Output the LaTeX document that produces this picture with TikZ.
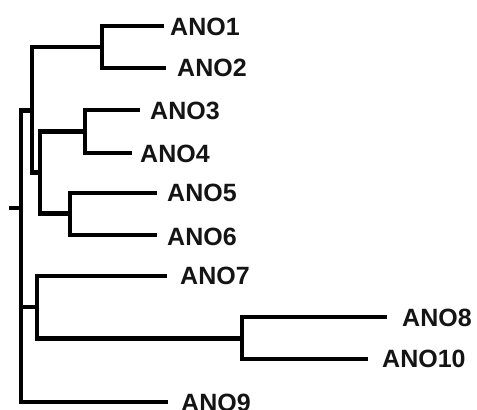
\documentclass[tikz,border=0pt]{standalone}
\usepackage{fontspec}
\setmainfont{Liberation Sans}
\begin{document}
\begin{tikzpicture}[x=1pt,y=-1pt,
  branch/.style={line width=4.6pt,line cap=butt,line join=miter,black},
  leaflabel/.style={anchor=west,inner sep=0pt,text=black!92,
    font=\fontsize{25}{30}\selectfont\bfseries}]
  \clip (0,0) rectangle (477,410);
  \useasboundingbox (0,0) rectangle (477,410);

  % internal nodes of the tree
  \coordinate (rt) at (9,208);
  \coordinate (r)  at (21,208);
  \coordinate (nA) at (32,110.5);
  \coordinate (nB) at (102,47);
  \coordinate (nC) at (40,172.5);
  \coordinate (nD) at (85,131.5);
  \coordinate (nE) at (70,213.5);
  \coordinate (nF) at (37,307);
  \coordinate (nG) at (242,338.5);

  % branch tips
  \coordinate (e1)  at (164,26);
  \coordinate (e2)  at (166,68);
  \coordinate (e3)  at (140,110);
  \coordinate (e4)  at (132,153);
  \coordinate (e5)  at (157,193);
  \coordinate (e6)  at (157,235);
  \coordinate (e7)  at (167,276);
  \coordinate (e8)  at (387,317);
  \coordinate (e10) at (368,359);
  \coordinate (e9)  at (168,402);

  % taxon labels
  \node[leaflabel] (l1)  at (170,27)  {ANO1};
  \node[leaflabel] (l2)  at (177,68)  {ANO2};
  \node[leaflabel] (l3)  at (150,111) {ANO3};
  \node[leaflabel] (l4)  at (140,154) {ANO4};
  \node[leaflabel] (l5)  at (167,193) {ANO5};
  \node[leaflabel] (l6)  at (167,237) {ANO6};
  \node[leaflabel] (l7)  at (180,276) {ANO7};
  \node[leaflabel] (l8)  at (402,318) {ANO8};
  \node[leaflabel] (l10) at (382,359) {ANO10};
  \node[leaflabel] (l9)  at (181,403) {ANO9};

  % root tick
  \draw[branch] (rt) -- (r);

  % branches
  \draw[branch] (r) |- (nA);
  \draw[branch] (r) |- (nF);
  \draw[branch] (r) |- (e9);

  \draw[branch] (nA) |- (nB);
  \draw[branch] (nA) |- (nC);

  \draw[branch] (nB) |- (e1);
  \draw[branch] (nB) |- (e2);

  \draw[branch] (nC) |- (nD);
  \draw[branch] (nC) |- (nE);

  \draw[branch] (nD) |- (e3);
  \draw[branch] (nD) |- (e4);

  \draw[branch] (nE) |- (e5);
  \draw[branch] (nE) |- (e6);

  \draw[branch] (nF) |- (e7);
  \draw[branch] (nF) |- (nG);

  \draw[branch] (nG) |- (e8);
  \draw[branch] (nG) |- (e10);
\end{tikzpicture}
\end{document}
